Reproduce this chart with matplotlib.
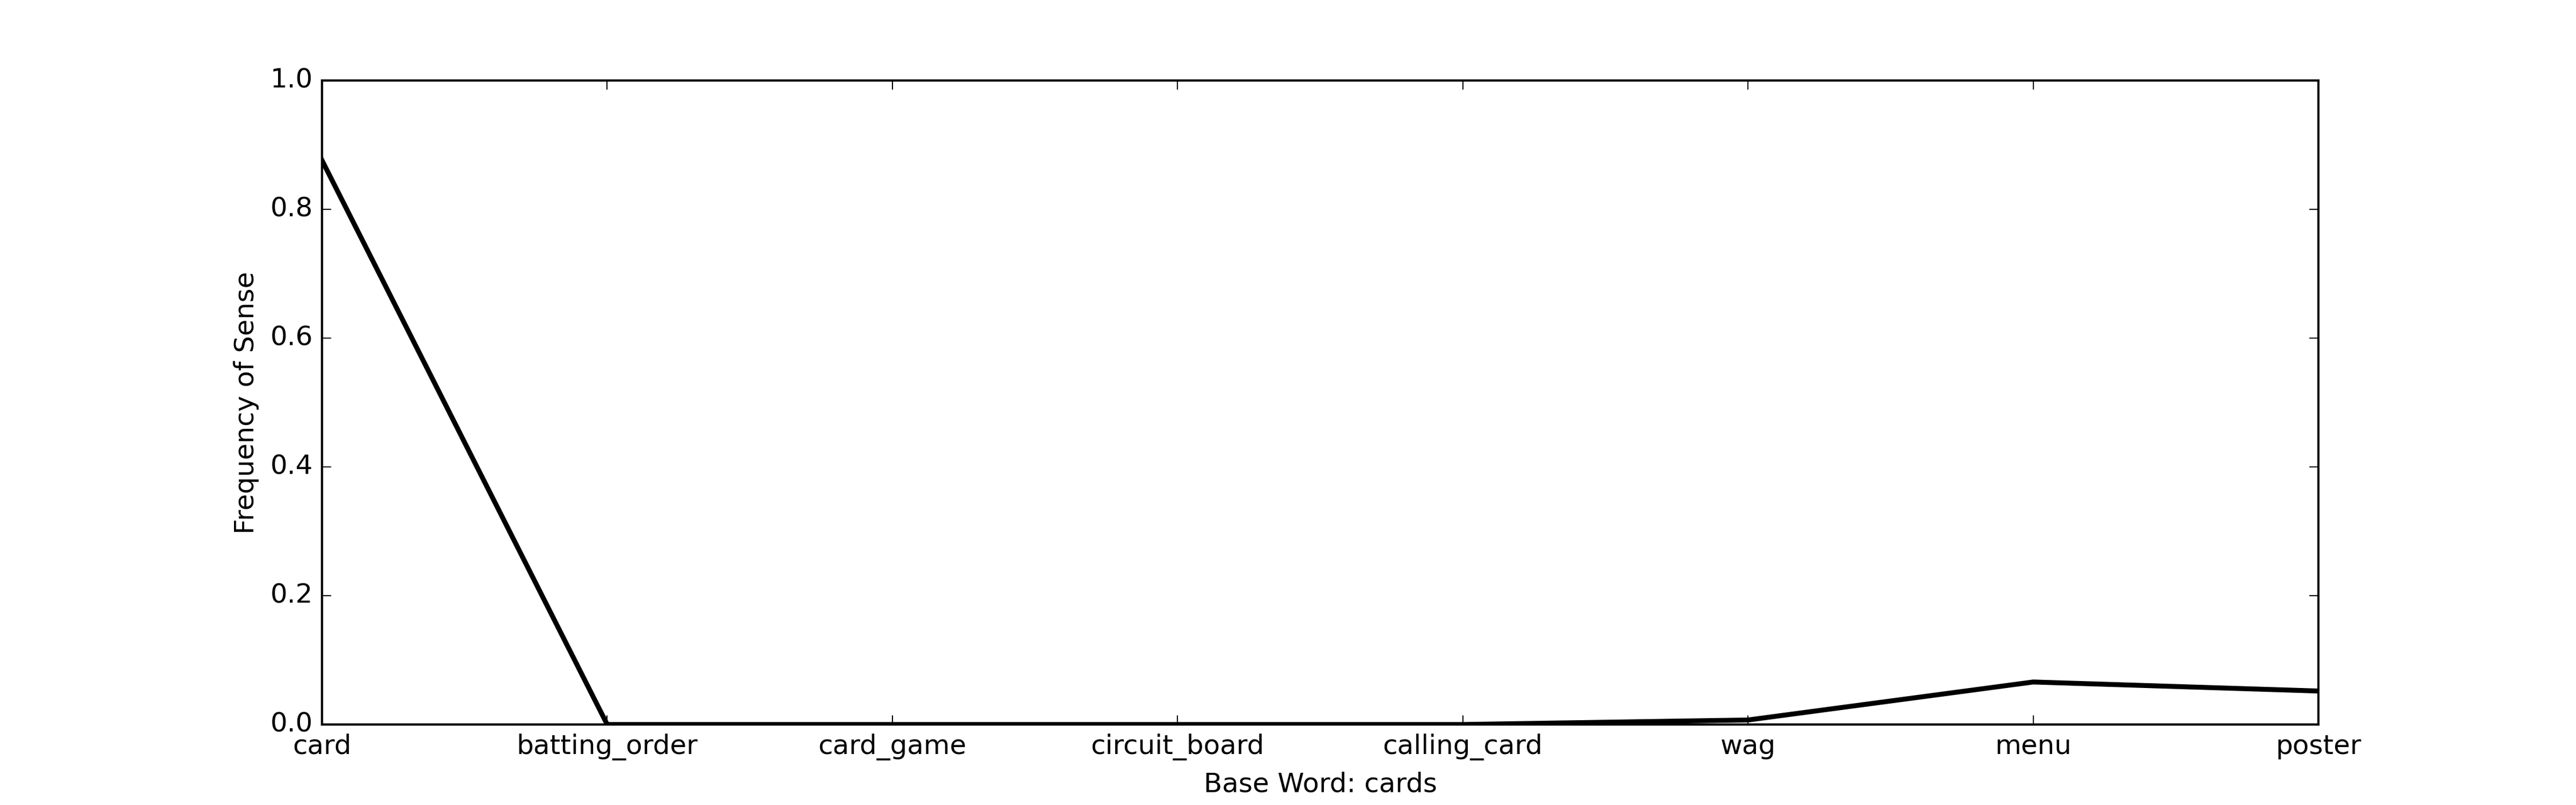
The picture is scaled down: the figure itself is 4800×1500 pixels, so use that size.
import matplotlib
matplotlib.use("Agg")
import matplotlib.pyplot as plt

senses = ["card", "batting_order", "card_game", "circuit_board", "calling_card", "wag", "menu", "poster"]
frequency = [0.876, 0.0, 0.0, 0.0, 0.0, 0.007, 0.066, 0.052]
base_word = "cards"

plt.style.use("classic")
plt.rcParams["figure.facecolor"] = "white"
plt.rcParams["savefig.facecolor"] = "white"

fig = plt.figure(figsize=(16, 5), dpi=300)
ax = fig.add_subplot(111)
x = list(range(len(senses)))
ax.plot(x, frequency, color="black", linewidth=2.2)
ax.set_xticks(x)
ax.set_xticklabels(senses)
ax.set_xlim(0, len(senses) - 1)
ax.set_ylim(0, 1.0)
ax.set_xlabel("Base Word: " + base_word)
ax.set_ylabel("Frequency of Sense")
fig.savefig("out.png", dpi=300, facecolor="white")
